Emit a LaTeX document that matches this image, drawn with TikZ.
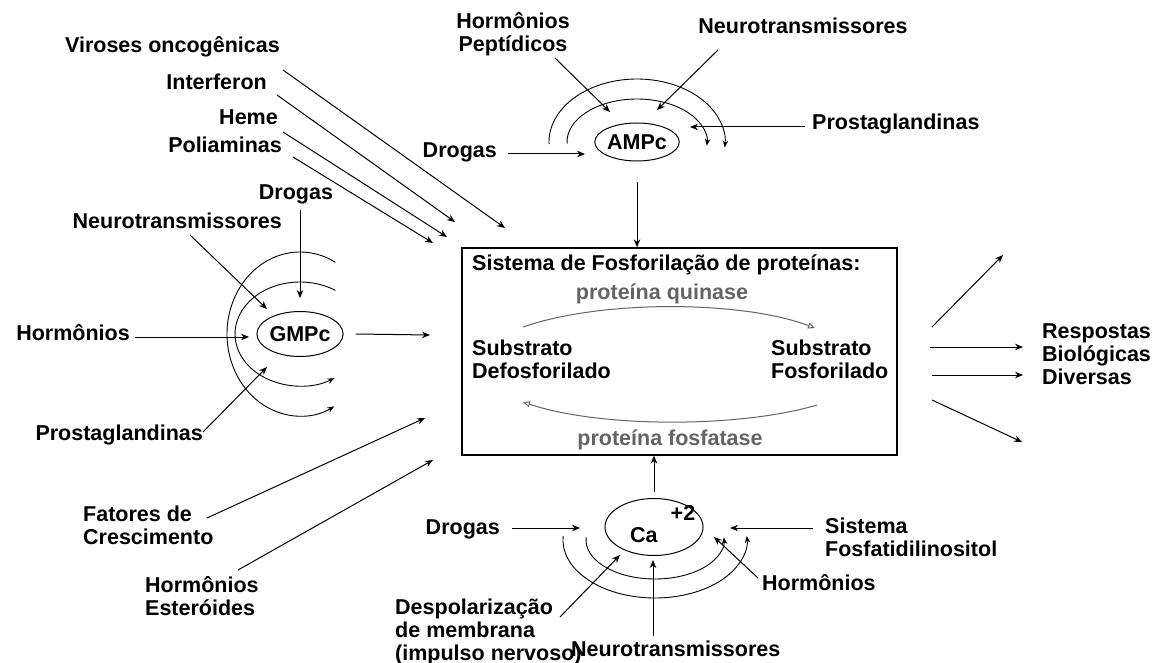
\documentclass[tikz,border=0pt]{standalone}
\usepackage{fontspec}
\setmainfont{Liberation Sans}
\usepackage{tikz}
\usetikzlibrary{arrows.meta,shapes.geometric}
\definecolor{cinza}{RGB}{100,100,100}

\begin{document}
\begin{tikzpicture}[x=1pt,y=-1pt,
    fonte/.style={font=\bfseries\fontsize{21.5}{23}\selectfont},
    rotulo/.style={fonte,inner sep=0pt,align=left,execute at begin node=\strut},
    enzima/.style={rotulo,text=cinza},
    mensageiro/.style={fonte,draw,ellipse,line width=1pt,inner sep=0pt},
    seta/.style={line width=1pt,-{Stealth[length=8pt,width=6.5pt]}},
    arco/.style={line width=0.9pt,-{Stealth[length=7pt,width=5.5pt]}},
    curva/.style={line width=1pt,draw=cinza,-{Triangle[open,length=7pt,width=6pt]}}]
    \useasboundingbox (0,0) rectangle (1153,663);
    \fill[white] (0,0) rectangle (1153,663);

    \node[draw,line width=1.3pt,minimum width=435pt,minimum height=207pt,inner sep=0pt] (caixa) at (679.5,351.5) {};
    \node[rotulo,anchor=north west] (titulo) at (472,254) {Sistema de Fosforilação de proteínas:};
    \node[enzima,anchor=north] (quinase) at (662,283) {proteína quinase};
    \node[rotulo,anchor=north west] (defosf) at (472,340) {Substrato\\Defosforilado};
    \node[rotulo,anchor=north west] (fosf) at (771,340) {Substrato\\Fosforilado};
    \node[enzima,anchor=north] (fosfatase) at (670,429) {proteína fosfatase};
    \coordinate (qIni) at (523,327);
    \coordinate (qFim) at (815,328);
    \coordinate (fIni) at (817,405);
    \coordinate (fFim) at (523,402);
    \draw[curva] (qIni) .. controls (600,300) and (740,300) .. (qFim);
    \draw[curva] (fIni) .. controls (740,428) and (600,428) .. (fFim);

    \node[mensageiro,minimum height=38pt] (ampc) at (637,142) {AMPc};
    \node[mensageiro,minimum height=45pt] (gmpc) at (300,334) {GMPc};
    \node[mensageiro,minimum width=98pt,minimum height=57pt] (ca) at (654,527) {};
    \node[fonte,inner sep=0pt,anchor=base west] (caIon) at (630,542) {Ca\hspace{13pt}\raisebox{22pt}{+2}};

    \node[rotulo,anchor=north east] (viroses) at (280,36) {Viroses oncogênicas};
    \node[rotulo,anchor=north east] (interferon) at (267,73) {Interferon};
    \node[rotulo,anchor=north east] (heme) at (278,108) {Heme};
    \node[rotulo,anchor=north east] (poliaminas) at (282,136) {Poliaminas};
    \node[rotulo,anchor=north] (drogasG) at (296,183) {Drogas};
    \node[rotulo,anchor=north east] (neuroG) at (282,212) {Neurotransmissores};
    \node[rotulo,anchor=north east] (hormG) at (130,324) {Hormônios};
    \node[rotulo,anchor=north east] (prostaG) at (203,424) {Prostaglandinas};
    \node[rotulo,anchor=north,align=center] (hormP) at (513,12) {Hormônios\\Peptídicos};
    \node[rotulo,anchor=north] (neuroA) at (803,17) {Neurotransmissores};
    \node[rotulo,anchor=north west] (prostaA) at (812,113) {Prostaglandinas};
    \node[rotulo,anchor=north east] (drogasA) at (497,141) {Drogas};
    \node[rotulo,anchor=north west] (resp) at (1042,324) {Respostas\\Biológicas\\Diversas};
    \node[rotulo,anchor=north west] (fatores) at (83,506) {Fatores de\\Crescimento};
    \node[rotulo,anchor=north west] (hormE) at (145,576) {Hormônios\\Esteróides};
    \node[rotulo,anchor=north east] (drogasC) at (500,518) {Drogas};
    \node[rotulo,anchor=north west] (sistema) at (825,518) {Sistema\\Fosfatidilinositol};
    \node[rotulo,anchor=north west] (hormC) at (762,574) {Hormônios};
    \node[rotulo,anchor=north west] (neuroC) at (571,640) {Neurotransmissores};
    \node[rotulo,anchor=north west] (despol) at (395,599) {Despolarização\\de membrana\\(impulso nervoso)};

    \coordinate (virA) at (283,70);  \coordinate (virB) at (505,228);
    \coordinate (intA) at (277,95);  \coordinate (intB) at (455,222);
    \coordinate (hemA) at (283,132); \coordinate (hemB) at (447,237);
    \coordinate (polA) at (293,157); \coordinate (polB) at (433,243);
    \draw[seta] (virA) -- (virB);
    \draw[seta] (intA) -- (intB);
    \draw[seta] (hemA) -- (hemB);
    \draw[seta] (polA) -- (polB);

    \coordinate (gDrA) at (300,210); \coordinate (gDrB) at (300,298);
    \coordinate (gNeA) at (190,235); \coordinate (gNeB) at (267,309);
    \coordinate (gHoA) at (135,337); \coordinate (gHoB) at (249,337);
    \coordinate (gPrA) at (203,432); \coordinate (gPrB) at (267,367);
    \coordinate (gSai) at (430,335);
    \draw[seta] (gDrA) -- (gDrB);
    \draw[seta] (gNeA) -- (gNeB);
    \draw[seta] (gHoA) -- (gHoB);
    \draw[seta] (gPrA) -- (gPrB);
    \draw[seta] ([xshift=12pt]gmpc.east) -- (gSai);
    \draw[arco] ([shift={(-61:73 and 82)}]gmpc.center) arc[start angle=-61,end angle=-298,x radius=73,y radius=82];
    \draw[arco] ([shift={(-57:65 and 52)}]gmpc.center) arc[start angle=-57,end angle=-302,x radius=65,y radius=52];

    \coordinate (aHoA) at (555,58);  \coordinate (aHoB) at (610,112);
    \coordinate (aNeA) at (718,50);  \coordinate (aNeB) at (657,110);
    \coordinate (aPrA) at (805,127); \coordinate (aPrB) at (690,127);
    \coordinate (aDrA) at (508,154); \coordinate (aDrB) at (585,154);
    \draw[seta] (aHoA) -- (aHoB);
    \draw[seta] (aNeA) -- (aNeB);
    \draw[seta] (aPrA) -- (aPrB);
    \draw[seta] (aDrA) -- (aDrB);
    \draw[seta] ([yshift=-21pt]ampc.south) -- (ampc |- caixa.north);
    \draw[arco] ([shift={(178:88 and 63)}]ampc.center) arc[start angle=178,end angle=365,x radius=88,y radius=63];
    \draw[arco] ([shift={(178:70 and 43)}]ampc.center) arc[start angle=178,end angle=365,x radius=70,y radius=43];

    \coordinate (rUmA) at (932,327); \coordinate (rUmB) at (1003,255);
    \coordinate (rDoA) at (930,347); \coordinate (rDoB) at (1023,347);
    \coordinate (rTrA) at (932,375); \coordinate (rTrB) at (1023,375);
    \coordinate (rQuA) at (932,400); \coordinate (rQuB) at (1022,442);
    \draw[seta] (rUmA) -- (rUmB);
    \draw[seta] (rDoA) -- (rDoB);
    \draw[seta] (rTrA) -- (rTrB);
    \draw[seta] (rQuA) -- (rQuB);

    \coordinate (fatA) at (207,518); \coordinate (fatB) at (425,418);
    \coordinate (estA) at (238,570); \coordinate (estB) at (433,460);
    \draw[seta] (fatA) -- (fatB);
    \draw[seta] (estA) -- (estB);

    \coordinate (caArco) at (655,540);
    \coordinate (cDrA) at (512,528); \coordinate (cDrB) at (580,528);
    \coordinate (cSiA) at (813,528); \coordinate (cSiB) at (730,528);
    \coordinate (cHoA) at (758,578); \coordinate (cHoB) at (714,537);
    \coordinate (cNeA) at (653,636); \coordinate (cNeB) at (653,560);
    \coordinate (cDeA) at (560,617); \coordinate (cDeB) at (620,555);
    \draw[seta] ([yshift=6pt]ca.north) -- (ca |- caixa.south);
    \draw[seta] (cDrA) -- (cDrB);
    \draw[seta] (cSiA) -- (cSiB);
    \draw[seta] (cHoA) -- (cHoB);
    \draw[seta] (cNeA) -- (cNeB);
    \draw[seta] (cDeA) -- (cDeB);
    \draw[arco] ([shift={(184:92 and 58)}]caArco) arc[start angle=184,end angle=-4,x radius=92,y radius=58];
    \draw[arco] ([shift={(184:69 and 39)}]caArco) arc[start angle=184,end angle=-4,x radius=69,y radius=39];
\end{tikzpicture}
\end{document}
